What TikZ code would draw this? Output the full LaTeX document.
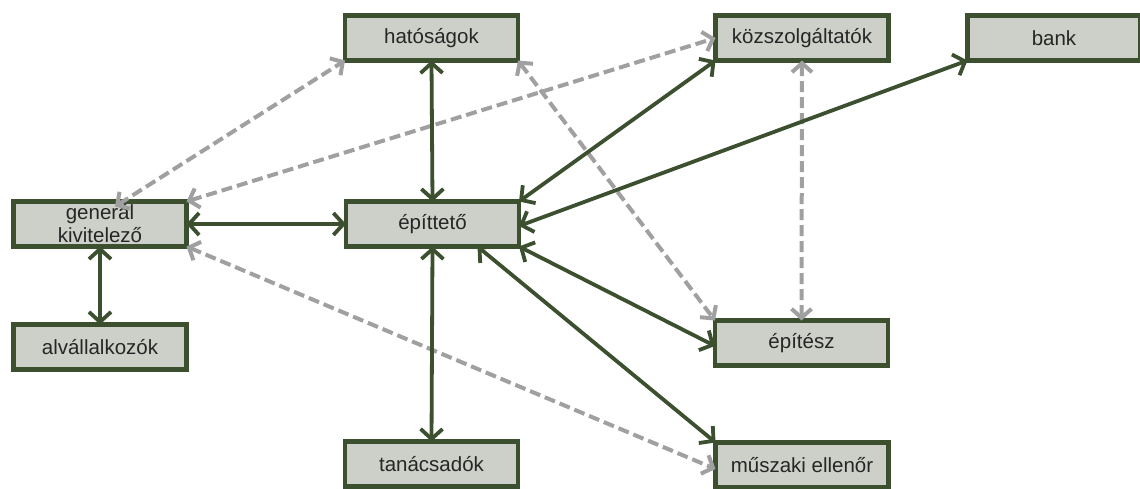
\documentclass[tikz,border=0pt]{standalone}
\usepackage{fontspec}
\setmainfont{Liberation Sans}
\usetikzlibrary{arrows.meta,calc}
\definecolor{boxline}{RGB}{60,80,48}
\definecolor{boxfill}{RGB}{205,208,200}
\definecolor{dashgray}{RGB}{160,160,160}
\begin{document}
\begin{tikzpicture}[x=1pt,y=-1pt,
  box/.style={draw=boxline,fill=boxfill,line width=4.5pt,minimum width=173pt,minimum height=45pt,inner sep=0pt,outer sep=0pt,font=\fontsize{20.5}{23}\selectfont,align=center,text=black!85},
  solidlink/.style={draw=boxline,line width=3.8pt,{Straight Barb[length=10pt,width=22pt,line width=3.8pt]}-{Straight Barb[length=10pt,width=22pt,line width=3.8pt]}},
  dashlink/.style={draw=dashgray,line width=4pt,dash pattern=on 11pt off 5pt,{Straight Barb[length=9pt,width=20pt,line width=4pt]}-{Straight Barb[length=9pt,width=20pt,line width=4pt]}}]
\useasboundingbox (0,0) rectangle (1140,488);
\clip (0,0) rectangle (1140,488);
\fill[white] (0,0) rectangle (1140,488);
\node[box] (hat) at (431.5,38) {hatóságok};
\node[box] (koz) at (802,38) {közszolgáltatók};
\node[box] (bank) at (1054,38) {bank};
\node[box] (gen) at (100,224) {generál\\kivitelező};
\node[box] (ept) at (432.5,224) {építtető};
\node[box] (alv) at (100,347) {alvállalkozók};
\node[box] (esz) at (801.5,343) {építész};
\node[box] (tan) at (431.5,464) {tanácsadók};
\node[box] (musz) at (802,465) {műszaki ellenőr};
% dashed
\draw[dashlink] ([xshift=15pt,yshift=-5pt]gen.north) -- (hat.south west);
\draw[dashlink] (gen.north east) -- (koz.west);
\draw[dashlink] (hat.south east) -- (esz.north west);
\draw[dashlink] (koz.south) -- (esz.north);
\draw[dashlink] (gen.south east) -- ([yshift=-4pt]musz.west);
% solid
\draw[solidlink] (hat.south) -- (ept.north);
\draw[solidlink] (gen.east) -- (ept.west);
\draw[solidlink] (gen.south) -- (alv.north);
\draw[solidlink] (ept.north east) -- (koz.south west);
\draw[solidlink] ([yshift=-2pt]ept.east) -- (bank.south west);
\draw[solidlink] (ept.south east) -- ([yshift=-3pt]esz.west);
\draw[solidlink] ([xshift=45pt]ept.south) -- (musz.north west);
\draw[solidlink] (ept.south) -- (tan.north);
\end{tikzpicture}
\end{document}
